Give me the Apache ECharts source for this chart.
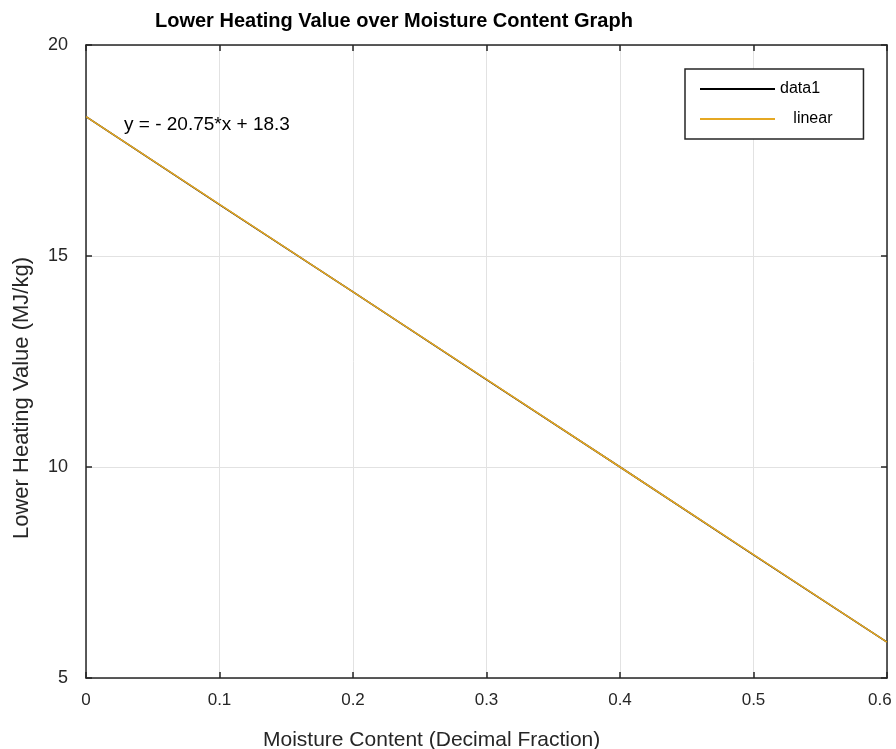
<!DOCTYPE html>
<html>
<head>
<meta charset="utf-8">
<script src="https://cdn.jsdelivr.net/npm/echarts@6/dist/echarts.min.js"></script>
<style>
  html, body { margin: 0; padding: 0; background: #fff; }
  #chart { width: 896px; height: 749px; }
</style>
</head>
<body>
<div id="chart"></div>
<script>
// moisture content (decimal fraction)
var moisture = [0, 0.1, 0.2, 0.3, 0.4, 0.5, 0.6];
// measured lower heating value (MJ/kg)
var data1 = [18.3, 16.22, 14.15, 12.07, 10.0, 7.92, 5.85];
// linear fit values
var linearFit = [18.3, 16.225, 14.15, 12.075, 10.0, 7.925, 5.85];
var fitText = 'y = - 20.75*x + 18.3';

var font = 'Liberation Sans';
var axisColor = '#262626';

function pairs( xs, ys ) {
	return xs.map( function( x, i ) { return [ x, ys[ i ] ]; } );
}

var chart = echarts.init( document.getElementById( 'chart' ) );

var boxAxis = {
	axisLine: { show: true, onZero: false, lineStyle: { color: axisColor, width: 1.5 } },
	axisTick: { show: true, inside: true, length: 6, lineStyle: { color: axisColor, width: 1.5 } },
	axisLabel: { show: false },
	splitLine: { show: false }
};

var option = {
	animation: false,
	backgroundColor: '#fff',
	textStyle: { fontFamily: font },
	grid: { left: 86, right: 9, top: 45, bottom: 71, containLabel: false, outerBoundsMode: 'none' },
	xAxis: [
		{
			type: 'value', min: 0, max: 0.6, interval: 0.1, position: 'bottom',
			axisLine: { show: true, onZero: false, lineStyle: { color: axisColor, width: 1.5 } },
			axisTick: { show: true, inside: true, length: 6, lineStyle: { color: axisColor, width: 1.5 } },
			axisLabel: {
				color: axisColor, fontSize: 17, margin: 14, fontFamily: font,
				// keep the last label inside the window
				formatter: function( v ) { return v === 0.6 ? '0.6   ' : String( v ); }
			},
			splitLine: { show: true, lineStyle: { color: '#e2e2e2', width: 1 } }
		},
		Object.assign( { type: 'value', min: 0, max: 0.6, interval: 0.1, position: 'top' }, boxAxis )
	],
	yAxis: [
		{
			type: 'value', min: 5, max: 20, interval: 5, position: 'left',
			axisLine: { show: true, onZero: false, lineStyle: { color: axisColor, width: 1.5 } },
			axisTick: { show: true, inside: true, length: 6, lineStyle: { color: axisColor, width: 1.5 } },
			axisLabel: { color: axisColor, fontSize: 18, margin: 18, fontFamily: font },
			splitLine: { show: true, lineStyle: { color: '#e2e2e2', width: 1 } }
		},
		Object.assign( { type: 'value', min: 5, max: 20, interval: 5, position: 'right' }, boxAxis )
	],
	legend: {
		show: true,
		orient: 'vertical',
		left: 685,
		top: 69,
		padding: [ 12, 31, 12, 15 ],
		itemWidth: 75,
		itemHeight: 2,
		itemGap: 14,
		borderColor: '#262626',
		borderWidth: 1.5,
		backgroundColor: '#fff',
		icon: 'rect',
		textStyle: { fontSize: 16, color: '#000', fontFamily: font },
		formatter: function( name ) {
			return name === 'linear' ? '   ' + name : name;
		},
		data: [ 'data1', 'linear' ]
	},
	series: [
		{
			name: 'data1',
			type: 'line',
			data: pairs( moisture, data1 ),
			showSymbol: false,
			symbol: 'none',
			lineStyle: { color: '#000', width: 1.5 },
			itemStyle: { color: '#000' }
		},
		{
			name: 'linear',
			type: 'line',
			data: pairs( moisture, linearFit ),
			showSymbol: false,
			symbol: 'none',
			lineStyle: { color: '#E5A823', width: 1.5 },
			itemStyle: { color: '#E5A823' }
		}
	]
};

chart.setOption( option );

// annotation and labels placed from data coordinates
var textPos = chart.convertToPixel( { xAxisIndex: 0, yAxisIndex: 0 }, [ 0.0285, 18.1 ] );

chart.setOption( {
	graphic: [
		{
			type: 'text', x: 155, y: 21,
			style: { text: 'Lower Heating Value over Moisture Content Graph', fontSize: 20, fontWeight: 'bold', fontFamily: font, fill: '#000', verticalAlign: 'middle' }
		},
		{
			type: 'text', x: textPos[ 0 ], y: textPos[ 1 ],
			style: { text: fitText, fontSize: 19, fontFamily: font, fill: '#000', verticalAlign: 'middle' }
		},
		{
			type: 'text', x: 263, y: 740,
			style: { text: 'Moisture Content (Decimal Fraction)', fontSize: 21, fontFamily: font, fill: axisColor, verticalAlign: 'middle' }
		},
		{
			type: 'text', x: 22, y: 398, rotation: Math.PI / 2,
			style: { text: 'Lower Heating Value (MJ/kg)', fontSize: 22, fontFamily: font, fill: axisColor, align: 'center', verticalAlign: 'middle' }
		}
	]
} );
</script>
</body>
</html>
